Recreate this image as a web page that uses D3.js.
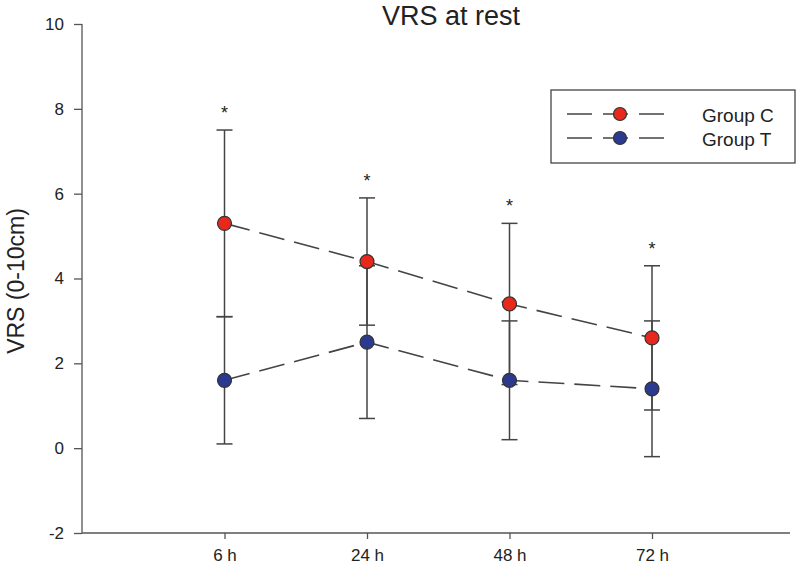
<!DOCTYPE html>
<html>
<head>
<meta charset="utf-8">
<script src="https://cdn.jsdelivr.net/npm/d3@7"></script>
<style>
  body { margin: 0; background: #fff; }
  svg { font-family: "Liberation Sans", Arial, sans-serif; }
</style>
</head>
<body>
<div id="chart"></div>
<script>
// Data
const times = ["6 h", "24 h", "48 h", "72 h"];
const groupC = [5.3, 4.4, 3.4, 2.6];
const groupCErr = [2.2, 1.5, 1.9, 1.7];
const groupT = [1.6, 2.5, 1.6, 1.4];
const groupTErr = [1.5, 1.8, 1.4, 1.6];
const yTicks = [-2, 0, 2, 4, 6, 8, 10];

const width = 800, height = 573;
const margin = { left: 82 };

const svg = d3.select("#chart").append("svg")
  .attr("width", width)
  .attr("height", height);

const x = d3.scaleLinear().domain([0, 5]).range([82, 794.5]);
const y = d3.scaleLinear().domain([-2, 10]).range([533, 24]);

// Axes
svg.append("g")
  .attr("transform", `translate(${margin.left},0)`)
  .call(d3.axisLeft(y).tickValues(yTicks).tickSize(8).tickPadding(10).tickFormat(d => String(d)))
  .call(g => g.select(".domain").attr("d", `M0,${y(10)}V${y(-2)}`))
  .call(g => g.selectAll("line, path").attr("stroke", "#555").attr("stroke-width", 1.3))
  .call(g => g.selectAll("text").attr("font-size", 17).attr("fill", "#222").attr("font-family", "Liberation Sans, Arial, sans-serif"));

svg.append("g")
  .attr("transform", `translate(0,${y(-2)})`)
  .call(d3.axisBottom(x).tickValues([1, 2, 3, 4]).tickSize(6).tickPadding(10)
    .tickFormat(d => times[d - 1]))
  .call(g => g.select(".domain").attr("d", `M82,0H790`))
  .call(g => g.selectAll("line, path").attr("stroke", "#555").attr("stroke-width", 1.3))
  .call(g => g.selectAll("text").attr("font-size", 17).attr("fill", "#222").attr("font-family", "Liberation Sans, Arial, sans-serif"));

// Title and axis label
svg.append("text")
  .attr("x", 451).attr("y", 25)
  .attr("text-anchor", "middle")
  .attr("font-size", 27)
  .attr("fill", "#222")
  .text("VRS at rest");

svg.append("text")
  .attr("transform", `translate(24,281) rotate(-90)`)
  .attr("text-anchor", "middle")
  .attr("font-size", 23)
  .attr("fill", "#222")
  .text("VRS (0-10cm)");

// Series
const series = [
  { name: "Group C", values: groupC, err: groupCErr, fill: "#e8281c" },
  { name: "Group T", values: groupT, err: groupTErr, fill: "#2b3a8f" }
];

const line = d3.line()
  .x((d, i) => x(i + 1))
  .y(d => y(d));

series.forEach(s => {
  svg.append("path")
    .datum(s.values)
    .attr("d", line)
    .attr("fill", "none")
    .attr("stroke", "#444")
    .attr("stroke-width", 1.6)
    .attr("stroke-dasharray", "26,10");
});

// Error bars
series.forEach(s => {
  const g = svg.append("g").attr("stroke", "#444").attr("stroke-width", 1.5);
  s.values.forEach((v, i) => {
    const cx = x(i + 1);
    const lo = v - s.err[i], hi = v + s.err[i];
    g.append("line").attr("x1", cx).attr("x2", cx).attr("y1", y(lo)).attr("y2", y(hi));
    [lo, hi].forEach(e => {
      g.append("line").attr("x1", cx - 8).attr("x2", cx + 8).attr("y1", y(e)).attr("y2", y(e));
    });
  });
});

// Markers
series.forEach(s => {
  svg.append("g").selectAll("circle")
    .data(s.values)
    .join("circle")
    .attr("cx", (d, i) => x(i + 1))
    .attr("cy", d => y(d))
    .attr("r", 7)
    .attr("fill", s.fill)
    .attr("stroke", "#333")
    .attr("stroke-width", 1.2);
});

// Significance stars
svg.append("g").selectAll("text")
  .data(groupC)
  .join("text")
  .attr("x", (d, i) => x(i + 1))
  .attr("y", (d, i) => y(d + groupCErr[i]) - 11)
  .attr("text-anchor", "middle")
  .attr("font-size", 18)
  .attr("fill", "#222")
  .text("*");

// Legend
const legend = svg.append("g");
legend.append("rect")
  .attr("x", 551).attr("y", 90)
  .attr("width", 244).attr("height", 73)
  .attr("fill", "#fff")
  .attr("stroke", "#444")
  .attr("stroke-width", 1.3);

series.forEach((s, i) => {
  const ly = 114 + i * 24;
  legend.append("line")
    .attr("x1", 567).attr("x2", 665)
    .attr("y1", ly).attr("y2", ly)
    .attr("stroke", "#444")
    .attr("stroke-width", 1.5)
    .attr("stroke-dasharray", "25,11");
  legend.append("circle")
    .attr("cx", 620).attr("cy", ly).attr("r", 6.5)
    .attr("fill", s.fill).attr("stroke", "#333").attr("stroke-width", 1.2);
  legend.append("text")
    .attr("x", 702).attr("y", ly + 8)
    .attr("font-size", 19)
    .attr("fill", "#222")
    .text(s.name);
});
</script>
</body>
</html>
